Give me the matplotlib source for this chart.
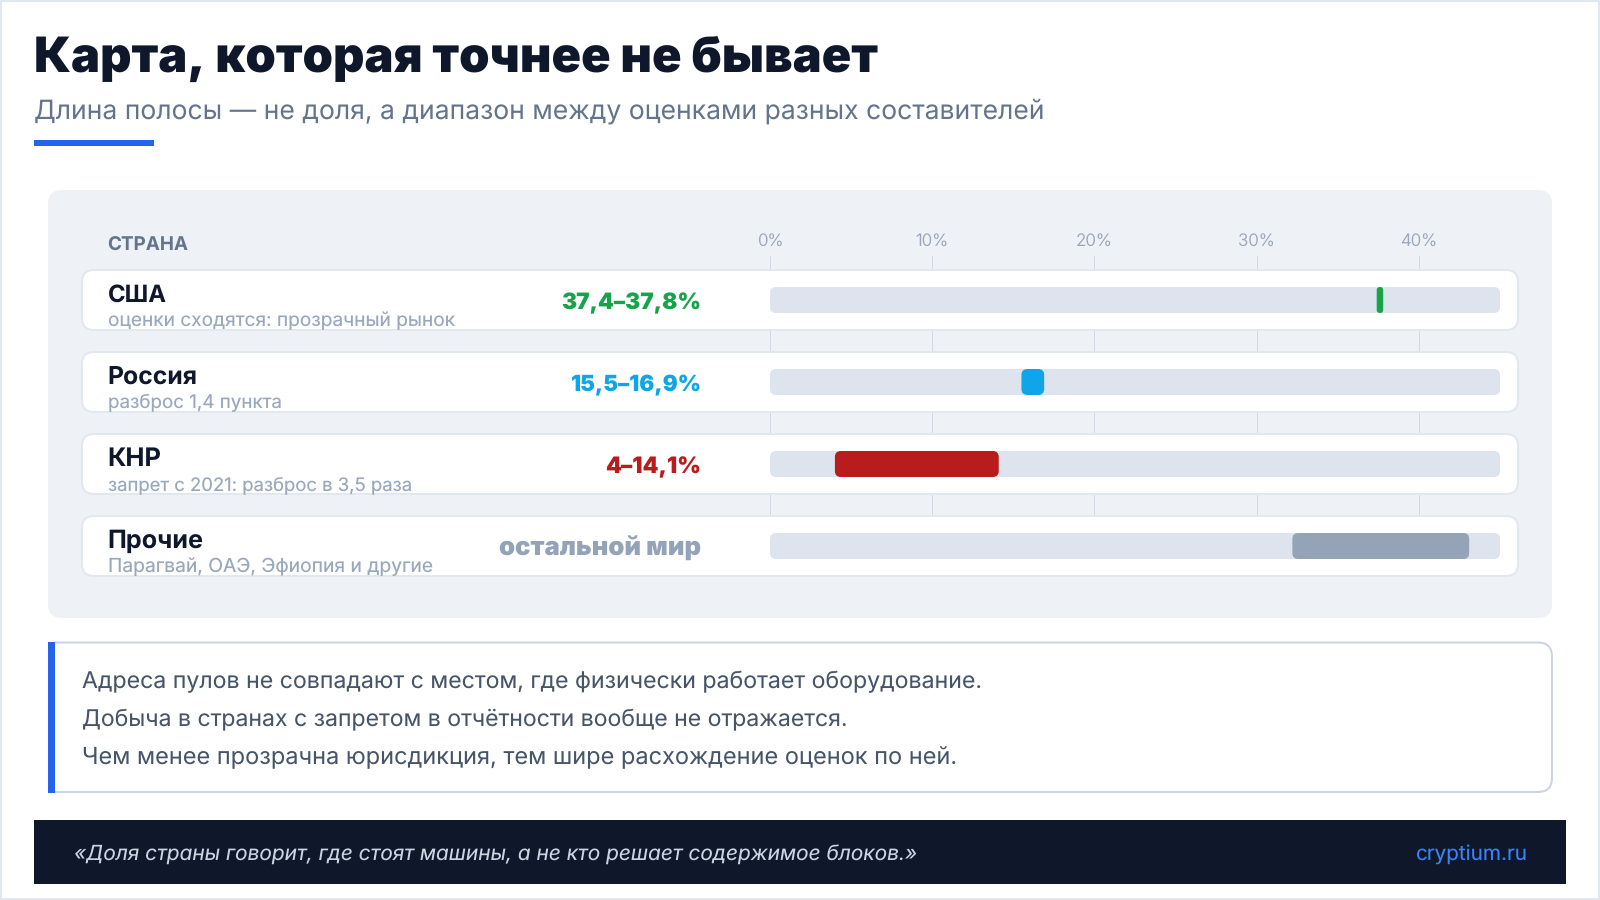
import matplotlib
matplotlib.use("Agg")
import matplotlib.pyplot as plt
from matplotlib.patches import FancyBboxPatch, Rectangle, PathPatch
from matplotlib.path import Path

plt.rcParams["text.hinting"] = "no_hinting"

# ---- data ----
countries = ["США", "Россия", "КНР", "Прочие"]
notes = ["оценки сходятся: прозрачный рынок", "разброс 1,4 пункта",
         "запрет с 2021: разброс в 3,5 раза", "Парагвай, ОАЭ, Эфиопия и другие"]
range_labels = ["37,4–37,8%", "15,5–16,9%", "4–14,1%", "остальной мир"]
low = [37.4, 15.5, 4.0, 32.2]
high = [37.8, 16.9, 14.1, 43.1]
bar_colors = ["#16a34a", "#0ea5e9", "#b91c1c", "#94a3b8"]
axis_ticks = [0, 10, 20, 30, 40]
axis_max = 45
title = "Карта, которая точнее не бывает"
subtitle = "Длина полосы — не доля, а диапазон между оценками разных составителей"
column_head = "СТРАНА"
callout = ["Адреса пулов не совпадают с местом, где физически работает оборудование.",
           "Добыча в странах с запретом в отчётности вообще не отражается.",
           "Чем менее прозрачна юрисдикция, тем шире расхождение оценок по ней."]
quote = "«Доля страны говорит, где стоят машины, а не кто решает содержимое блоков.»"
brand = "cryptium.ru"

# ---- layout (pixels of the 1600x900 canvas) ----
W, H = 1600, 900
FONT = "Inter"
X0, X1 = 770, 1500          # plot area, 0..axis_max
ROW_TOP, ROW_H, ROW_STEP = 270, 60, 82
AX_TOP, AX_BOTTOM = 256, 576
note_widths = [347, 174, 304, 325]
name_widths = [59, 90, 54, 96]
value_widths = [140, 131, 96, 202]
callout_widths = [900, 765, 875]

fig = plt.figure(figsize=(16, 9), dpi=100, facecolor="white")
bg = fig.add_axes([0, 0, 1, 1], zorder=0)
bg.set_xlim(0, W)
bg.set_ylim(H, 0)
bg.axis("off")
renderer = fig.canvas.get_renderer()


def px(v):
    return v * 0.72


def put(host, x, y, s, size, color, width=None, weight=400, ha="left", style="normal", z=5):
    t = host.text(x, y, s, fontsize=px(size), color=color, fontweight=weight, ha=ha, va="baseline",
                  family=FONT, fontstyle=style, zorder=z, transform=bg.transData, clip_on=False)
    if width is not None:
        for _ in range(4):
            w = t.get_window_extent(renderer).width
            t.set_fontsize(t.get_fontsize() * width / w)
    return t


def rbox(host, x0, y0, x1, y1, r, fc, ec="none", lw=0, z=1):
    p = FancyBboxPatch((x0, y0), x1 - x0, y1 - y0, boxstyle=f"round,pad=0,rounding_size={r}",
                       fc=fc, ec=ec, lw=px(lw), zorder=z, transform=bg.transData, clip_on=False)
    host.add_patch(p)
    return p


# page frame
bg.add_patch(Rectangle((1, 1), W - 2, H - 2, fc="white", ec="#e2e8f0", lw=px(2), zorder=0))

# header
put(bg, 34, 72, title, 48, "#0f172a", width=844, weight=900)
put(bg, 34, 118.5, subtitle, 26, "#64748b", width=1011)
bg.add_patch(Rectangle((34, 140), 120, 6, fc="#2563eb", ec="none", zorder=1))

# panel
rbox(bg, 48, 190, 1552, 618, 14, "#eef1f6")

# chart axes
ax = fig.add_axes([X0 / W, 1 - AX_BOTTOM / H, (X1 - X0) / W, (AX_BOTTOM - AX_TOP) / H], zorder=1)
ax.patch.set_alpha(0)
first_centre = ROW_TOP + ROW_H / 2
ax.set_xlim(0, axis_max)
ax.set_ylim((AX_BOTTOM - first_centre) / ROW_STEP, (AX_TOP - first_centre) / ROW_STEP)
for sp in ax.spines.values():
    sp.set_visible(False)
ax.set_yticks([])
ax.xaxis.tick_top()
ax.set_xticks(axis_ticks)
ax.set_xticklabels([f"{v}%" for v in axis_ticks], fontsize=px(17), color="#9aa7bb",
                   family=FONT, fontweight=300)
ax.tick_params(axis="x", length=0, pad=px(10))
for lab in ax.get_xticklabels():
    lab.set_verticalalignment("baseline")
ax.set_axisbelow(True)
ax.grid(axis="x", color="#d3d9e4", lw=px(1.0), zorder=0.5)

put(ax, 107.5, 250, column_head, 18, "#64748b", width=81, weight=700)

px_per_x = (X1 - X0) / axis_max
px_per_row = ROW_STEP
aspect = px_per_x / px_per_row
half_h = 13 / px_per_row


def bar(x0, x1, i, radius_px, color, z):
    r = min(radius_px, (x1 - x0) * px_per_x / 2) / px_per_x
    ax.add_patch(FancyBboxPatch((x0, i - half_h), x1 - x0, 2 * half_h,
                                boxstyle=f"round,pad=0,rounding_size={r}", mutation_aspect=aspect,
                                fc=color, ec="none", zorder=z))


for i, name in enumerate(countries):
    top = ROW_TOP + i * ROW_STEP
    rbox(ax, 82, top, 1518, top + ROW_H, 12, "white", ec="#e2e8f0", lw=2, z=1)
    put(ax, 107.5, top + 32, name, 25, "#0f172a", width=name_widths[i], weight=700)
    put(ax, 108, top + 56, notes[i], 19, "#9aa8bc", width=note_widths[i])
    put(ax, 701, top + 39, range_labels[i], 25, bar_colors[i], width=value_widths[i], weight=900, ha="right")
    bar(0, axis_max, i, 6, "#dee4ed", 2)
    bar(low[i], high[i], i, 6, bar_colors[i], 3)

# callout
r = 14
L, T, R, B = 55, 642.5, 1552, 792
verts = [(L, T), (R - r, T), (R, T), (R, T + r), (R, B - r), (R, B), (R - r, B), (L, B)]
codes = [Path.MOVETO, Path.LINETO, Path.CURVE3, Path.CURVE3, Path.LINETO, Path.CURVE3, Path.CURVE3, Path.LINETO]
bg.add_patch(PathPatch(Path(verts, codes), fc="white", ec="#cbd5e1", lw=px(2), zorder=1))
bg.add_patch(Rectangle((48, 642), 7, 151, fc="#2563eb", ec="none", zorder=2))
for line, base, w in zip(callout, [688.5, 726.5, 764.5], callout_widths):
    put(bg, 82, base, line, 24, "#475569", width=w)

# footer
bg.add_patch(Rectangle((34, 820), 1532, 64, fc="#0f172a", ec="none", zorder=1))
put(bg, 74, 860, quote, 21, "#cbd5e1", width=843, style="italic")
put(bg, 1527, 860, brand, 21, "#3b82f6", width=112, ha="right")

fig.savefig("out.png", dpi=100)
